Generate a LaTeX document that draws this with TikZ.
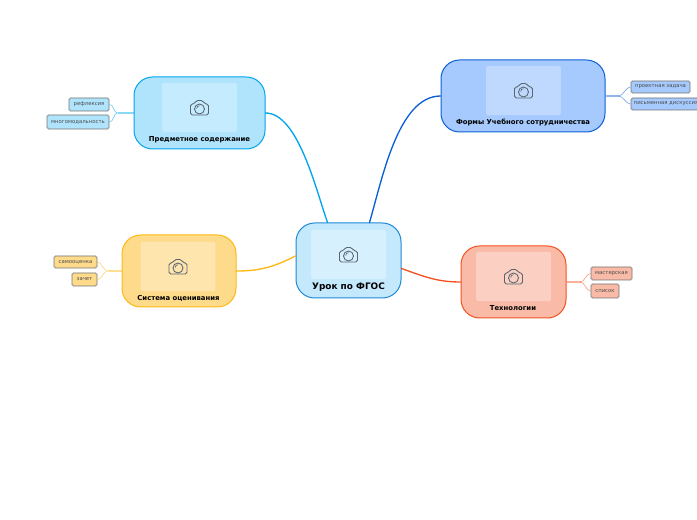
\documentclass[tikz,border=0pt]{standalone}
\usepackage{fontspec}
\setmainfont{DejaVu Sans}
\usepackage{xcolor}
\usetikzlibrary{positioning}

\definecolor{mainfill}{HTML}{C4E9FC}
\definecolor{mainline}{HTML}{1E88D8}
\definecolor{maininner}{HTML}{D6F1FD}
\definecolor{subjectfill}{HTML}{B0E4FD}
\definecolor{subjectline}{HTML}{00A5EC}
\definecolor{subjectinner}{HTML}{C5EBFE}
\definecolor{formsfill}{HTML}{A6CAFD}
\definecolor{formsline}{HTML}{0A5FD6}
\definecolor{formsinner}{HTML}{BFD9FE}
\definecolor{gradefill}{HTML}{FEDB8B}
\definecolor{gradeline}{HTML}{FDB813}
\definecolor{gradeinner}{HTML}{FEE5AD}
\definecolor{techfill}{HTML}{F9BBA8}
\definecolor{techline}{HTML}{F4511E}
\definecolor{techinner}{HTML}{FBD0C2}
\definecolor{iconline}{HTML}{5A6570}

\begin{document}
\begin{tikzpicture}[x=0.75pt, y=-0.75pt, every node/.style={font=\fontsize{4}{5}\selectfont}]

    % Styles for the map
    \tikzset{
        topicbox/.style n args={4}{draw=#4, fill=#3, rounded corners=14pt, line width=0.75pt, inner sep=0pt, minimum width=#1*0.75pt, minimum height=#2*0.75pt},
        photobox/.style={fill=#1, rounded corners=1.5pt, inner sep=0pt, minimum width=56pt, minimum height=37pt},
        toplabel/.style={font=\fontsize{5.15}{6}\selectfont\bfseries, text=black, inner sep=0pt},
        mainlabel/.style={font=\fontsize{6.7}{8}\selectfont\bfseries, text=black, inner sep=0pt},
        leafbox/.style n args={3}{draw=black!55, draw opacity=0.55, fill=#3, rounded corners=1.2pt, line width=1.1pt, inner sep=0pt, minimum width=#1*0.75pt, minimum height=#2*0.75pt, text=black!70},
        branch/.style={line width=1pt, line cap=round},
        stem/.style={line width=1.3pt, opacity=0.45},
        twig/.style={line width=0.5pt, opacity=0.55},
        camera/.pic={
            \draw[iconline, line width=0.65pt, rounded corners=1.3pt]
                (-9,7.5) -- (-9,-3.5) -- (-5,-3.5) -- (-3.5,-7) -- (3.5,-7) -- (5,-3.5) -- (9,-3.5) -- (9,7.5) -- cycle;
            \draw[iconline, line width=0.65pt] (0,1.5) circle (5);
            \draw[iconline, line width=0.5pt] (-2.8,1) arc (180:270:2.8);
        }
    }

    \useasboundingbox (0,0) rectangle (697,520);
    \clip (0,0) rectangle (697,520);

    % Central topic and main topics
    \node[topicbox={105}{75}{mainfill}{mainline}] (main) at (348.5,260.5) {};
    \node[topicbox={131}{72}{subjectfill}{subjectline}] (subject) at (199.5,113) {};
    \node[topicbox={164}{72}{formsfill}{formsline}] (forms) at (523,96) {};
    \node[topicbox={114}{72}{gradefill}{gradeline}] (grade) at (179,271) {};
    \node[topicbox={105}{72}{techfill}{techline}] (tech) at (513.5,282) {};

    % Picture frames
    \node[photobox=maininner] (mainphoto) at (348.5,254.5) {};
    \node[photobox=subjectinner] (subjectphoto) at (199.5,107.5) {};
    \node[photobox=formsinner] (formsphoto) at (523.5,90.5) {};
    \node[photobox=gradeinner] (gradephoto) at (178,266.5) {};
    \node[photobox=techinner] (techphoto) at (513.5,276.5) {};

    \pic at (mainphoto) {camera};
    \pic at (subjectphoto) {camera};
    \pic at (formsphoto) {camera};
    \pic at (gradephoto) {camera};
    \pic at (techphoto) {camera};

    % Titles
    \node[mainlabel] (maintitle) at (348.5,287) {Урок по ФГОС};
    \node[toplabel] (subjecttitle) at (199.5,140) {Предметное содержание};
    \node[toplabel] (formstitle) at (523,123) {Формы Учебного сотрудничества};
    \node[toplabel] (gradetitle) at (178.5,298) {Система оценивания};
    \node[toplabel] (techtitle) at (513,308.5) {Технологии};

    % Small leaves
    \node[leafbox={40}{13}{subjectfill}] (reflect) at (89,104.5) {рефлексия};
    \node[leafbox={62}{14}{subjectfill}] (modal) at (78,122) {многомодальность};
    \node[leafbox={59}{12}{formsfill}] (project) at (660.5,87) {проектная задача};
    \node[leafbox={70}{12}{formsfill}] (written) at (666,104) {письменная дискуссия};
    \node[leafbox={43}{12}{gradefill}] (selfmark) at (75.5,262) {самооценка};
    \node[leafbox={25}{13}{gradefill}] (credit) at (84.5,279.5) {зачет};
    \node[leafbox={41}{13}{techfill}] (workshop) at (611.5,273.5) {мастерская};
    \node[leafbox={28}{14}{techfill}] (listing) at (605,291) {список};

    % Main branches
    \draw[branch, subjectline] ([xshift=-15.75pt]main.north) .. controls (316,190) and (298,113) .. (subject.east);
    \draw[branch, formsline] ([xshift=15.75pt]main.north) .. controls (382,180) and (398,96) .. (forms.west);
    \draw[branch, gradeline] ([yshift=3.4pt]main.west) .. controls (272,268) and (258,271) .. (grade.east);
    \draw[branch, techline] ([yshift=-6pt]main.east) .. controls (425,277) and (438,282) .. (tech.west);

    % Forks towards the leaves
    \coordinate[left=12pt of subject.west] (subjectfork);
    \coordinate[right=10pt of forms.east] (formsfork);
    \coordinate[left=10.5pt of grade.west] (gradefork);
    \coordinate[right=10.5pt of tech.east] (techfork);

    \draw[stem, subjectline] (subject.west) -- (subjectfork);
    \draw[stem, formsline] (forms.east) -- (formsfork);
    \draw[stem, gradeline] (grade.west) -- (gradefork);
    \draw[stem, techline] (tech.east) -- (techfork);

    \draw[twig, subjectline] (subjectfork) .. controls +(-4,0) and +(4,0) .. (reflect.east);
    \draw[twig, subjectline] (subjectfork) .. controls +(-4,0) and +(4,0) .. (modal.east);
    \draw[twig, formsline] (formsfork) .. controls +(4,0) and +(-4,0) .. (project.west);
    \draw[twig, formsline] (formsfork) .. controls +(4,0) and +(-4,0) .. (written.west);
    \draw[twig, gradeline] (gradefork) .. controls +(-4,0) and +(4,0) .. (selfmark.east);
    \draw[twig, gradeline] (gradefork) .. controls +(-4,0) and +(4,0) .. (credit.east);
    \draw[twig, techline] (techfork) .. controls +(4,0) and +(-4,0) .. (workshop.west);
    \draw[twig, techline] (techfork) .. controls +(4,0) and +(-4,0) .. (listing.west);

\end{tikzpicture}
\end{document}
